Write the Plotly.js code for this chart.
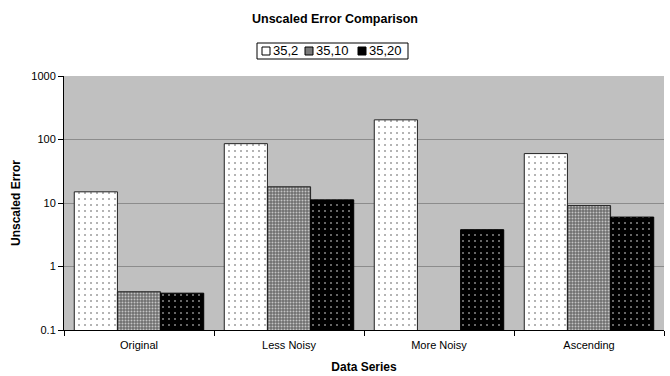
<!DOCTYPE html>
<html>
<head>
<meta charset="utf-8">
<script src="https://cdn.plot.ly/plotly-3.0.1.min.js"></script>
<style>html,body{margin:0;padding:0;background:#fff;}#chart{width:670px;height:376px;}</style>
</head>
<body>
<div id="chart"></div>
<script>
const categories = ["Original", "Less Noisy", "More Noisy", "Ascending"];
const seriesNames = ["35,2", "35,10", "35,20"];
const s352 = [15, 86, 204, 60];
const s3510 = [0.40, 18, null, 9.1];
const s3520 = [0.38, 11.2, 3.8, 6.0];
const yTickVals = [0.1, 1, 10, 100, 1000];
const yTickText = ["0.1", "1", "10", "100", "1000"];
const legendSwatchColors = ["#ffffff", "#7a7a7a", "#000000"];

const font = "Liberation Sans, Arial, sans-serif";
const M = {l: 64, r: 6, t: 76, b: 46};
const W = 670, H = 376;
const PW = W - M.l - M.r, PH = H - M.t - M.b;
const px = v => (v - M.l) / PW;
const py = v => (H - M.b - v) / PH;

const traces = [
  {
    type: "bar", name: seriesNames[0], x: categories, y: s352,
    marker: {color: "#ffffff", line: {color: "#222", width: 1},
      pattern: {shape: ".", bgcolor: "#ffffff", fgcolor: "#444444", size: 6, solidity: 0.05}}
  },
  {
    type: "bar", name: seriesNames[1], x: categories, y: s3510,
    marker: {color: "#888888", line: {color: "#222", width: 1},
      pattern: {shape: ".", bgcolor: "#6e6e6e", fgcolor: "#c4c4c4", size: 3, solidity: 0.35}}
  },
  {
    type: "bar", name: seriesNames[2], x: categories, y: s3520,
    marker: {color: "#000000", line: {color: "#000", width: 1},
      pattern: {shape: ".", bgcolor: "#000000", fgcolor: "#ffffff", size: 6, solidity: 0.05}}
  }
];

// legend drawn as box + swatches + text
const legTextX = [272, 315, 368];
const legSymX = [262, 305, 358];
const shapes = [
  {type: "rect", xref: "paper", yref: "paper", x0: px(257), x1: px(408), y0: py(59), y1: py(43),
   line: {color: "#000", width: 1}, fillcolor: "#ffffff", layer: "above"}
];
const annotations = [];
seriesNames.forEach((n, i) => {
  shapes.push({type: "rect", xref: "paper", yref: "paper", x0: px(legSymX[i]), x1: px(legSymX[i] + 8),
    y0: py(55), y1: py(47), line: {color: "#000", width: 1}, fillcolor: legendSwatchColors[i], layer: "above"});
  annotations.push({xref: "paper", yref: "paper", x: px(legTextX[i]), y: py(51), xanchor: "left", yanchor: "middle",
    text: n, showarrow: false, font: {family: font, size: 13, color: "#000"}, xshift: -1});
});

const layout = {
  width: W, height: H,
  margin: M,
  paper_bgcolor: "#ffffff",
  plot_bgcolor: "#c0c0c0",
  font: {family: font, size: 11, color: "#000"},
  title: {text: "<b>Unscaled Error Comparison</b>", font: {family: font, size: 12.5, color: "#000"},
    x: 0.5, xanchor: "center", y: 0.951, yanchor: "middle"},
  barmode: "group",
  bargap: 0.137,
  bargroupgap: 0,
  showlegend: false,
  shapes: shapes,
  annotations: annotations,
  xaxis: {
    type: "category", showline: true, linecolor: "#000", linewidth: 1,
    ticks: "outside", tickson: "boundaries", ticklen: 5, tickcolor: "#000",
    showgrid: false, zeroline: false, mirror: false, ticklabelstandoff: 5,
    tickfont: {family: font, size: 11, color: "#000"},
    title: {text: "<b>Data Series</b>", font: {family: font, size: 12, color: "#000"}, standoff: 12}
  },
  yaxis: {
    type: "log", range: [-1, 3], showline: true, linecolor: "#000", linewidth: 1,
    ticks: "outside", ticklen: 5, tickcolor: "#000",
    tickvals: yTickVals, ticktext: yTickText,
    showgrid: true, gridcolor: "#8c8c8c", gridwidth: 1, zeroline: false,
    tickfont: {family: font, size: 11, color: "#000"},
    title: {text: "<b>Unscaled Error</b>", font: {family: font, size: 12, color: "#000"}, standoff: 8}
  }
};

Plotly.newPlot("chart", traces, layout, {displayModeBar: false, staticPlot: true});
</script>
</body>
</html>
